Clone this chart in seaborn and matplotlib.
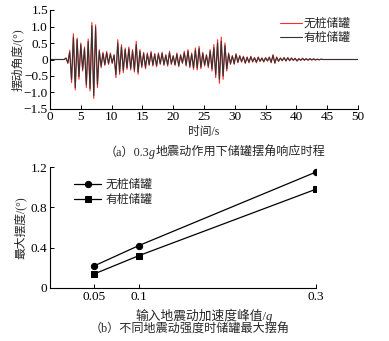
import numpy as np
import pandas as pd
import matplotlib
matplotlib.use("Agg")
import matplotlib.pyplot as plt
import seaborn as sns

# ---------------- data ----------------
# (a) peak values of the swing-angle time history, one every 0.3 s from 2.6 s
peak_start = 2.6
peak_step = 0.3
no_pile_peaks = [
    0.05, -0.12, 0.28, -0.70, 0.78, -0.92, 0.65, -0.60, 0.50, -0.35,
    0.38, -0.85, 0.62, -0.95, 1.12, -1.18, 1.05, -0.85, 0.30, -0.25,
    0.22, -0.18, 0.25, -0.15, 0.20, -0.12, 0.15, -0.55, 0.60, -0.45,
    0.45, -0.40, 0.35, -0.30, 0.38, -0.32, 0.30, -0.38, 0.55, -0.45,
    0.30, -0.25, 0.22, -0.28, 0.20, -0.18, 0.25, -0.20, 0.18, -0.22,
    0.20, -0.15, 0.22, -0.18, 0.15, -0.20, 0.25, -0.15, 0.12, -0.18,
    0.20, -0.22, 0.15, -0.12, 0.25, -0.20, 0.30, -0.25, 0.20, -0.30,
    0.35, -0.32, 0.40, -0.28, 0.22, -0.20, 0.15, -0.25, 0.30, -0.35,
    0.45, -0.55, 0.60, -0.72, 0.68, -0.60, 0.50, -0.35, 0.20, -0.15,
    0.12, -0.15, 0.18, -0.10, 0.12, -0.08, 0.10, -0.12, 0.08, -0.10,
    0.10, -0.08, 0.06, -0.10, 0.08, -0.06, 0.05, -0.08, 0.06, -0.05,
    0.08, -0.10, 0.15, -0.12, 0.08, -0.06, 0.05, -0.04, 0.06, -0.05,
    0.06, -0.04, 0.05, -0.03, 0.04, -0.05, 0.03, -0.03, 0.04, -0.02,
    0.03, -0.02, 0.03, -0.02, 0.02, -0.02, 0.01, -0.01, 0.01, 0.00,
]
pile_peaks = [
    0.04, -0.10, 0.22, -0.60, 0.68, -0.85, 0.60, -0.52, 0.45, -0.30,
    0.32, -0.75, 0.55, -0.88, 1.02, -1.10, 0.98, -0.75, 0.25, -0.20,
    0.18, -0.15, 0.20, -0.12, 0.16, -0.10, 0.12, -0.45, 0.50, -0.38,
    0.38, -0.33, 0.30, -0.25, 0.32, -0.27, 0.25, -0.32, 0.45, -0.38,
    0.25, -0.20, 0.18, -0.23, 0.16, -0.15, 0.20, -0.16, 0.15, -0.18,
    0.16, -0.12, 0.18, -0.15, 0.12, -0.16, 0.20, -0.12, 0.10, -0.15,
    0.16, -0.18, 0.12, -0.10, 0.20, -0.16, 0.25, -0.20, 0.16, -0.25,
    0.28, -0.26, 0.33, -0.23, 0.18, -0.16, 0.12, -0.20, 0.25, -0.28,
    0.36, -0.45, 0.50, -0.60, 0.55, -0.50, 0.42, -0.28, 0.16, -0.12,
    0.10, -0.12, 0.15, -0.08, 0.10, -0.06, 0.08, -0.10, 0.06, -0.08,
    0.08, -0.06, 0.05, -0.08, 0.06, -0.05, 0.04, -0.06, 0.05, -0.04,
    0.06, -0.08, 0.12, -0.10, 0.06, -0.05, 0.04, -0.03, 0.05, -0.04,
    0.05, -0.03, 0.04, -0.02, 0.03, -0.04, 0.02, -0.02, 0.03, -0.02,
    0.02, -0.02, 0.02, -0.01, 0.02, -0.01, 0.01, -0.01, 0.01, 0.00,
]
series_names = ["无桩储罐", "有桩储罐"]

# (b) maximum swing angle vs PGA
pga = [0.05, 0.1, 0.3]
max_no_pile = [0.22, 0.42, 1.15]
max_pile = [0.14, 0.32, 0.98]

# ---------------- style ----------------
sns.set_theme(style="ticks")
FAM = ["Liberation Serif", "Noto Sans CJK SC"]
plt.rcParams["font.family"] = FAM
plt.rcParams["axes.unicode_minus"] = True

W, H = 389, 341
fig = plt.figure(figsize=(W / 100, H / 100), dpi=100)
fig.patch.set_facecolor("white")


def mixed_text(xc_px, baseline_px, parts, size):
    """Draw a line of text made of (string, style) parts, centred at xc_px."""
    r = fig.canvas.get_renderer()
    texts = [fig.text(0, 0, s, fontsize=size, style=st, family=FAM,
                      ha="left", va="baseline") for s, st in parts]
    widths = [t.get_window_extent(r).width for t in texts]
    x = xc_px - sum(widths) / 2
    for t, w in zip(texts, widths):
        t.set_position((x / W, 1 - baseline_px / H))
        x += w


# time array for the peaks (plus quiet start and end)
n = len(no_pile_peaks)
t_peaks = peak_start + peak_step * np.arange(n)
t = np.concatenate([[0.0, 2.3], t_peaks, [50.0]])
y0 = np.concatenate([[0.0, 0.0], no_pile_peaks, [0.0]])
y1 = np.concatenate([[0.0, 0.0], pile_peaks, [0.0]])
df_a = pd.DataFrame({
    "t": np.concatenate([t, t]),
    "v": np.concatenate([y0, y1]),
    "s": [series_names[0]] * len(t) + [series_names[1]] * len(t),
})

ax1 = fig.add_axes([50 / W, 1 - 109 / H, 308 / W, 99 / H])
sns.lineplot(data=df_a, x="t", y="v", hue="s", hue_order=series_names,
             palette={series_names[0]: "#ff2a2a", series_names[1]: "#333333"},
             linewidth=0.8, ax=ax1, estimator=None, sort=False)
ax1.set_xlim(0, 50)
ax1.set_ylim(-1.5, 1.5)
ax1.set_xticks(np.arange(0, 51, 5))
ax1.set_yticks([-1.5, -1.0, -0.5, 0, 0.5, 1.0, 1.5])
ax1.set_yticklabels(["\u22121.5", "\u22121.0", "\u22120.5", "0", "0.5", "1.0", "1.5"])
ax1.set_xlabel("时间/s", fontsize=8.5, labelpad=2)
ax1.set_ylabel("摆动角度/(°)", fontsize=8.5, labelpad=0)
leg = ax1.legend(loc="upper right", bbox_to_anchor=(1.0, 0.99), frameon=False,
                 fontsize=8.5, handlelength=1.9, handletextpad=0.15,
                 labelspacing=0.2, borderaxespad=0.2)
sns.despine(ax=ax1)
ax1.tick_params(direction="in", labelsize=9.5, length=3, width=0.7, pad=1.5,
                colors="black")
for sp in ax1.spines.values():
    sp.set_linewidth(0.8)
    sp.set_color("black")

mixed_text(215, 156, [("（a）0.3", "normal"), ("g", "italic"),
                      ("地震动作用下储罐摆角响应时程", "normal")], 8.7)

# (b)
df_b = pd.DataFrame({
    "pga": pga + pga,
    "m": max_no_pile + max_pile,
    "s": [series_names[0]] * len(pga) + [series_names[1]] * len(pga),
})
ax2 = fig.add_axes([50 / W, 1 - 288 / H, 266 / W, 121 / H])
sns.lineplot(data=df_b, x="pga", y="m", hue="s", style="s",
             hue_order=series_names, style_order=series_names,
             palette={series_names[0]: "black", series_names[1]: "black"},
             markers={series_names[0]: "o", series_names[1]: "s"},
             dashes=False, markersize=4.5, linewidth=0.9,
             markeredgecolor="black", ax=ax2)
ax2.set_xlim(0, 0.3)
ax2.set_ylim(0, 1.2)
ax2.set_xticks(pga)
ax2.set_xticklabels(["0.05", "0.1", "0.3"])
ax2.set_yticks([0, 0.4, 0.8, 1.2])
ax2.set_yticklabels(["0", "0.4", "0.8", "1.2"])
ax2.set_xlabel("")
ax2.set_ylabel("最大摆度/(°)", fontsize=8.5, labelpad=3)
ax2.legend(loc="upper left", bbox_to_anchor=(0.05, 0.99), frameon=False,
           fontsize=8.5, handlelength=2.3, handletextpad=0.4, labelspacing=0.3)
sns.despine(ax=ax2)
ax2.tick_params(direction="in", labelsize=9.5, length=3, width=0.7, pad=2,
                colors="black")
for sp in ax2.spines.values():
    sp.set_linewidth(0.8)
    sp.set_color("black")

mixed_text(204, 320, [("输入地震动加速度峰值/", "normal"), ("g", "italic")], 9.2)
mixed_text(190, 333, [("（b）不同地震动强度时储罐最大摆角", "normal")], 8.7)

fig.savefig("out.png", dpi=100, facecolor="white")
